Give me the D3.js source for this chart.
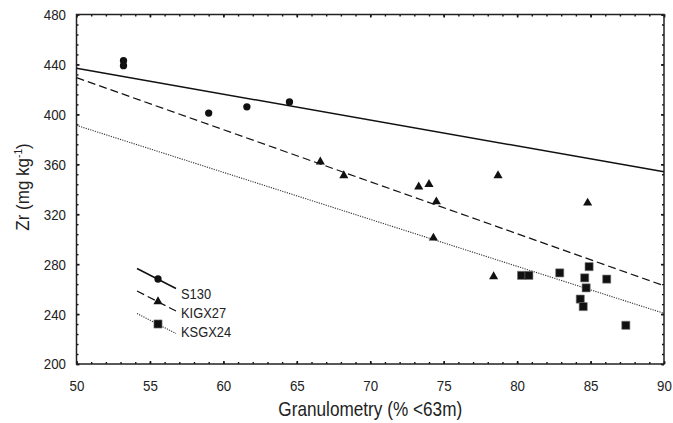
<!DOCTYPE html>
<html>
<head>
<meta charset="utf-8">
<script src="https://cdn.jsdelivr.net/npm/d3@7"></script>
<style>
  body { margin: 0; background: #fff; }
  text { font-family: "Liberation Sans", Arial, sans-serif; fill: #222; }
</style>
</head>
<body>
<div id="chart"></div>
<script>
// Series data (granulometry % <63 µm, Zr mg/kg)
var s130X = [53.2, 53.2, 59.0, 61.6, 64.5];
var s130Y = [443, 439, 401, 406, 410];

var kigxX = [66.6, 68.2, 73.3, 74.0, 74.5, 74.3, 78.4, 78.7, 84.8];
var kigxY = [362, 351, 342, 344, 330, 301, 270, 351, 329];

var ksgxX = [80.3, 80.8, 82.9, 84.9, 84.6, 86.1, 84.7, 84.3, 84.5, 87.4];
var ksgxY = [271, 271, 273, 278, 269, 268, 261, 252, 246, 231];

// Regression lines: Zr at x = 50 and at x = 90
var seriesNames = ["S130", "KIGX27", "KSGX24"];
var fitAt50 = [436.9, 429.4, 391.2];
var fitAt90 = [354.0, 262.7, 240.6];

var xTicks = [50, 55, 60, 65, 70, 75, 80, 85, 90];
var yTicks = [200, 240, 280, 320, 360, 400, 440, 480];

(function() {
  var width = 673,
      height = 423;
  var left = 76.5, right = 664, top = 14.5, bottom = 364;
  var narrow = 0.86; // horizontal squeeze to mimic a condensed face

  var svg = d3.select("#chart")
    .append("svg")
      .attr("width", width)
      .attr("height", height);

  var x = d3.scaleLinear().domain([50, 90]).range([left, right]);
  var y = d3.scaleLinear().domain([200, 480]).range([bottom, top]);

  var ink = "#111";

  // Squeeze a text element around its anchor point.
  function squeeze(sel, k) {
    sel.each(function() {
      var t = d3.select(this);
      var tx = +t.attr("x") || 0, ty = +t.attr("y") || 0;
      t.attr("x", 0).attr("y", 0)
        .attr("transform", "translate(" + tx + "," + ty + ") scale(" + k + ",1)");
    });
  }

  // Minor ticks (inward, all four sides)
  function minorAxis(axisFn, scale, values, pos, isX) {
    var g = svg.append("g")
      .attr("transform", isX ? "translate(0," + pos + ")" : "translate(" + pos + ",0)")
      .call(axisFn(scale).tickValues(values).tickSizeInner(-2).tickSizeOuter(0).tickFormat(""));
    g.select(".domain").remove();
    g.selectAll("line").attr("stroke", ink).attr("stroke-width", 1.4);
    return g;
  }
  var xMinor = d3.range(50, 91, 1);
  var yMinor = d3.range(200, 481, 8);
  minorAxis(d3.axisBottom, x, xMinor, bottom, true);
  minorAxis(d3.axisTop, x, xMinor, top, true);
  minorAxis(d3.axisLeft, y, yMinor, left, false);
  minorAxis(d3.axisRight, y, yMinor, right, false);

  // Major ticks with labels on bottom and left
  var xAxis = svg.append("g")
    .attr("transform", "translate(0," + bottom + ")")
    .call(d3.axisBottom(x).tickValues(xTicks).tickSizeInner(-3).tickSizeOuter(0).tickPadding(16));
  var yAxis = svg.append("g")
    .attr("transform", "translate(" + left + ",0)")
    .call(d3.axisLeft(y).tickValues(yTicks).tickSizeInner(-3).tickSizeOuter(0).tickPadding(10.5));
  var xTop = svg.append("g")
    .attr("transform", "translate(0," + top + ")")
    .call(d3.axisTop(x).tickValues(xTicks).tickSizeInner(-3).tickSizeOuter(0).tickFormat(""));
  var yRight = svg.append("g")
    .attr("transform", "translate(" + right + ",0)")
    .call(d3.axisRight(y).tickValues(yTicks).tickSizeInner(-3).tickSizeOuter(0).tickFormat(""));

  [xAxis, yAxis, xTop, yRight].forEach(function(g) {
    g.select(".domain").remove();
    g.selectAll("line").attr("stroke", ink).attr("stroke-width", 1.6);
    g.selectAll("text")
      .style("font-size", "15.5px")
      .attr("fill", "#222");
  });
  svg.selectAll("g").attr("font-family", null);
  squeeze(xAxis.selectAll("text"), narrow);
  squeeze(yAxis.selectAll("text"), narrow);

  // Frame
  svg.append("rect")
    .attr("x", left)
    .attr("y", top)
    .attr("width", right - left)
    .attr("height", bottom - top)
    .attr("fill", "none")
    .attr("stroke", "#222")
    .attr("stroke-width", 1.5);

  // Line styles per series
  var dashes = [null, "8,4", "1.2,1.2"];
  var widths = [1.5, 1.2, 1.1];
  var strokes = ["#111", "#111", "#333"];

  // Regression lines
  seriesNames.forEach(function(name, i) {
    svg.append("line")
      .attr("x1", x(50))
      .attr("y1", y(fitAt50[i]))
      .attr("x2", x(90))
      .attr("y2", y(fitAt90[i]))
      .attr("stroke", strokes[i])
      .attr("stroke-width", widths[i])
      .attr("stroke-dasharray", dashes[i]);
  });

  // Markers
  var symbols = [
    d3.symbol().type(d3.symbolCircle).size(42),
    d3.symbol().type(d3.symbolTriangle).size(36),
    d3.symbol().type(d3.symbolSquare).size(66)
  ];
  var seriesX = [s130X, kigxX, ksgxX];
  var seriesY = [s130Y, kigxY, ksgxY];

  seriesNames.forEach(function(name, i) {
    svg.append("g")
      .selectAll("path")
      .data(seriesX[i].map(function(v, j) { return [v, seriesY[i][j]]; }))
      .enter()
      .append("path")
        .attr("d", symbols[i])
        .attr("transform", function(d) { return "translate(" + x(d[0]) + "," + y(d[1]) + ")"; })
        .attr("fill", ink)
        .attr("stroke", i === 2 ? "#777" : "none")
        .attr("stroke-width", 0.6);
  });

  // Legend
  var legend = svg.append("g").attr("class", "legend");
  seriesNames.forEach(function(name, i) {
    var cy = 279 + i * 22.5,
        cx = 158;
    legend.append("line")
      .attr("x1", cx - 21).attr("y1", cy - 10.5)
      .attr("x2", cx + 18).attr("y2", cy + 9.5)
      .attr("stroke", strokes[i])
      .attr("stroke-width", widths[i])
      .attr("stroke-dasharray", dashes[i]);
    legend.append("path")
      .attr("d", symbols[i])
      .attr("transform", "translate(" + cx + "," + cy + ")")
      .attr("fill", ink)
      .attr("stroke", i === 2 ? "#777" : "none")
      .attr("stroke-width", 0.6);
    legend.append("text")
      .attr("x", 181)
      .attr("y", 298.5 + i * 19)
      .style("font-size", "15px")
      .text(name);
  });
  squeeze(legend.selectAll("text"), narrow);

  // Axis titles
  var xTitle = svg.append("text")
    .attr("x", (left + right) / 2)
    .attr("y", 416)
    .attr("text-anchor", "middle")
    .style("font-size", "20px")
    .text("Granulometry (% <63m)");
  squeeze(xTitle, narrow);

  var yTitle = svg.append("text")
    .attr("transform", "translate(29,187) rotate(-90) scale(0.92,1)")
    .attr("text-anchor", "middle")
    .style("font-size", "18.5px");
  yTitle.append("tspan").text("Zr (mg kg");
  yTitle.append("tspan").attr("dy", -7).style("font-size", "11px").text("-1");
  yTitle.append("tspan").attr("dy", 7).text(")");
})();
</script>
</body>
</html>
